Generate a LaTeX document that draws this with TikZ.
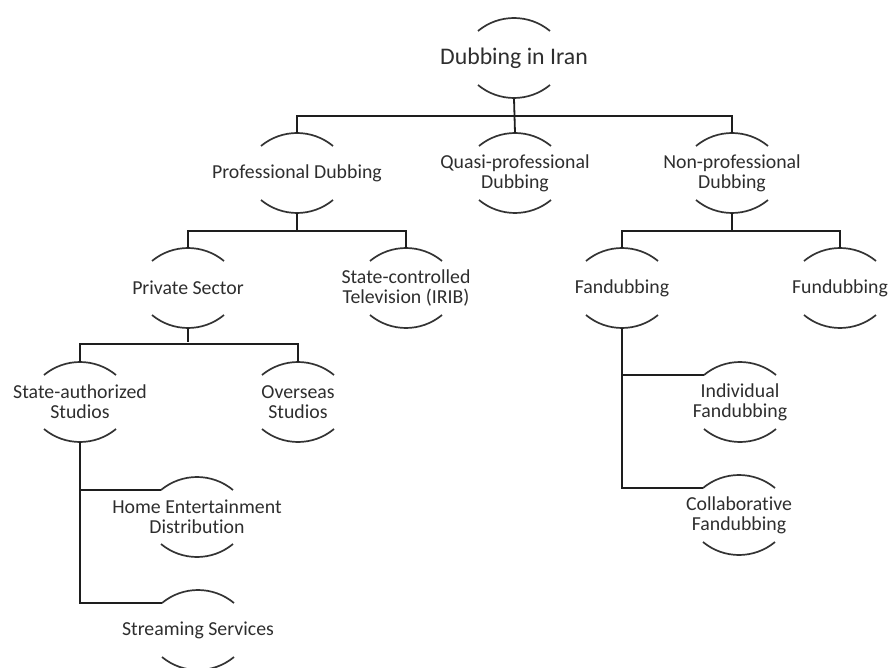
\documentclass[tikz,border=0pt]{standalone}
\usepackage{fontspec}
\setmainfont{Carlito}[Ligatures={NoCommon}]
\usetikzlibrary{calc}
\definecolor{txt}{HTML}{2E2E2E}
\definecolor{arcc}{HTML}{333333}
\definecolor{lnc}{HTML}{1E1E1E}
\tikzset{
  bn/.style={shape=rectangle, minimum height=80pt, inner sep=0pt, align=center,
    text=txt, font=\fontsize{19.8}{20}\selectfont},
  rootn/.style={bn, font=\fontsize{23.8}{24}\selectfont, minimum height=81pt},
  arcln/.style={draw=arcc, line width=1.7pt},
  conn/.style={draw=lnc, line width=1.8pt}
}
% name, x, y, text, style
\newcommand\bnode[5]{%
  \node[#5] (#1) at (#2,#3) {#4};
  \draw[arcln] ($(#1.center)+(-36,-27)$) coordinate (#1-tl)
     arc[start angle=129.7, end angle=50.3, radius=56.35pt];
  \draw[arcln] ($(#1.center)+(-36,27)$)
     arc[start angle=230.3, end angle=309.7, radius=56.35pt];
}
\begin{document}
\begin{tikzpicture}[x=1pt,y=-1pt]
\useasboundingbox (0,0) rectangle (888,668);
\bnode{root}{514}{58}{Dubbing in Iran}{rootn}
\bnode{prof}{297}{173}{Professional Dubbing}{bn}
\bnode{quasi}{515}{173}{Quasi-professional\\Dubbing}{bn}
\bnode{nonp}{732}{173}{Non-professional\\Dubbing}{bn}
\bnode{priv}{188}{288}{Private Sector}{bn}
\bnode{irib}{406}{288}{State-controlled\\Television (IRIB)}{bn}
\bnode{fan}{622}{288}{Fandubbing}{bn}
\bnode{fun}{840}{288}{Fundubbing}{bn}
\bnode{sas}{80}{402}{State-authorized\\Studios}{bn}
\bnode{over}{298}{402}{Overseas\\Studios}{bn}
\bnode{indiv}{740}{402}{Individual\\Fandubbing}{bn}
\bnode{home}{197}{517}{Home Entertainment\\Distribution}{bn}
\bnode{collab}{739}{515}{Collaborative\\Fandubbing}{bn}
\bnode{stream}{198}{630}{Streaming Services}{bn}
% connectors
\draw[conn] (root.south) -- (quasi.north);
\draw[conn] (prof.north) -- ++(0,-17) -| (nonp.north);
\draw[conn] (prof.south) -- ++(0,17) coordinate (b1);
\draw[conn] (priv.north) -- ++(0,-17) -| (irib.north);
\draw[conn] (nonp.south) -- ++(0,17);
\draw[conn] (fan.north) -- ++(0,-17) -| (fun.north);
\draw[conn] (priv.south) -- ++(0,14);
\draw[conn] (sas.north) -- ++(0,-18) -| (over.north);
\draw[conn] (sas.south) |- (stream-tl);
\draw[conn] (sas.south |- home-tl) -- (home-tl);
\draw[conn] (fan.south) |- (collab-tl);
\draw[conn] (fan.south |- indiv-tl) -- (indiv-tl);
\end{tikzpicture}
\end{document}
